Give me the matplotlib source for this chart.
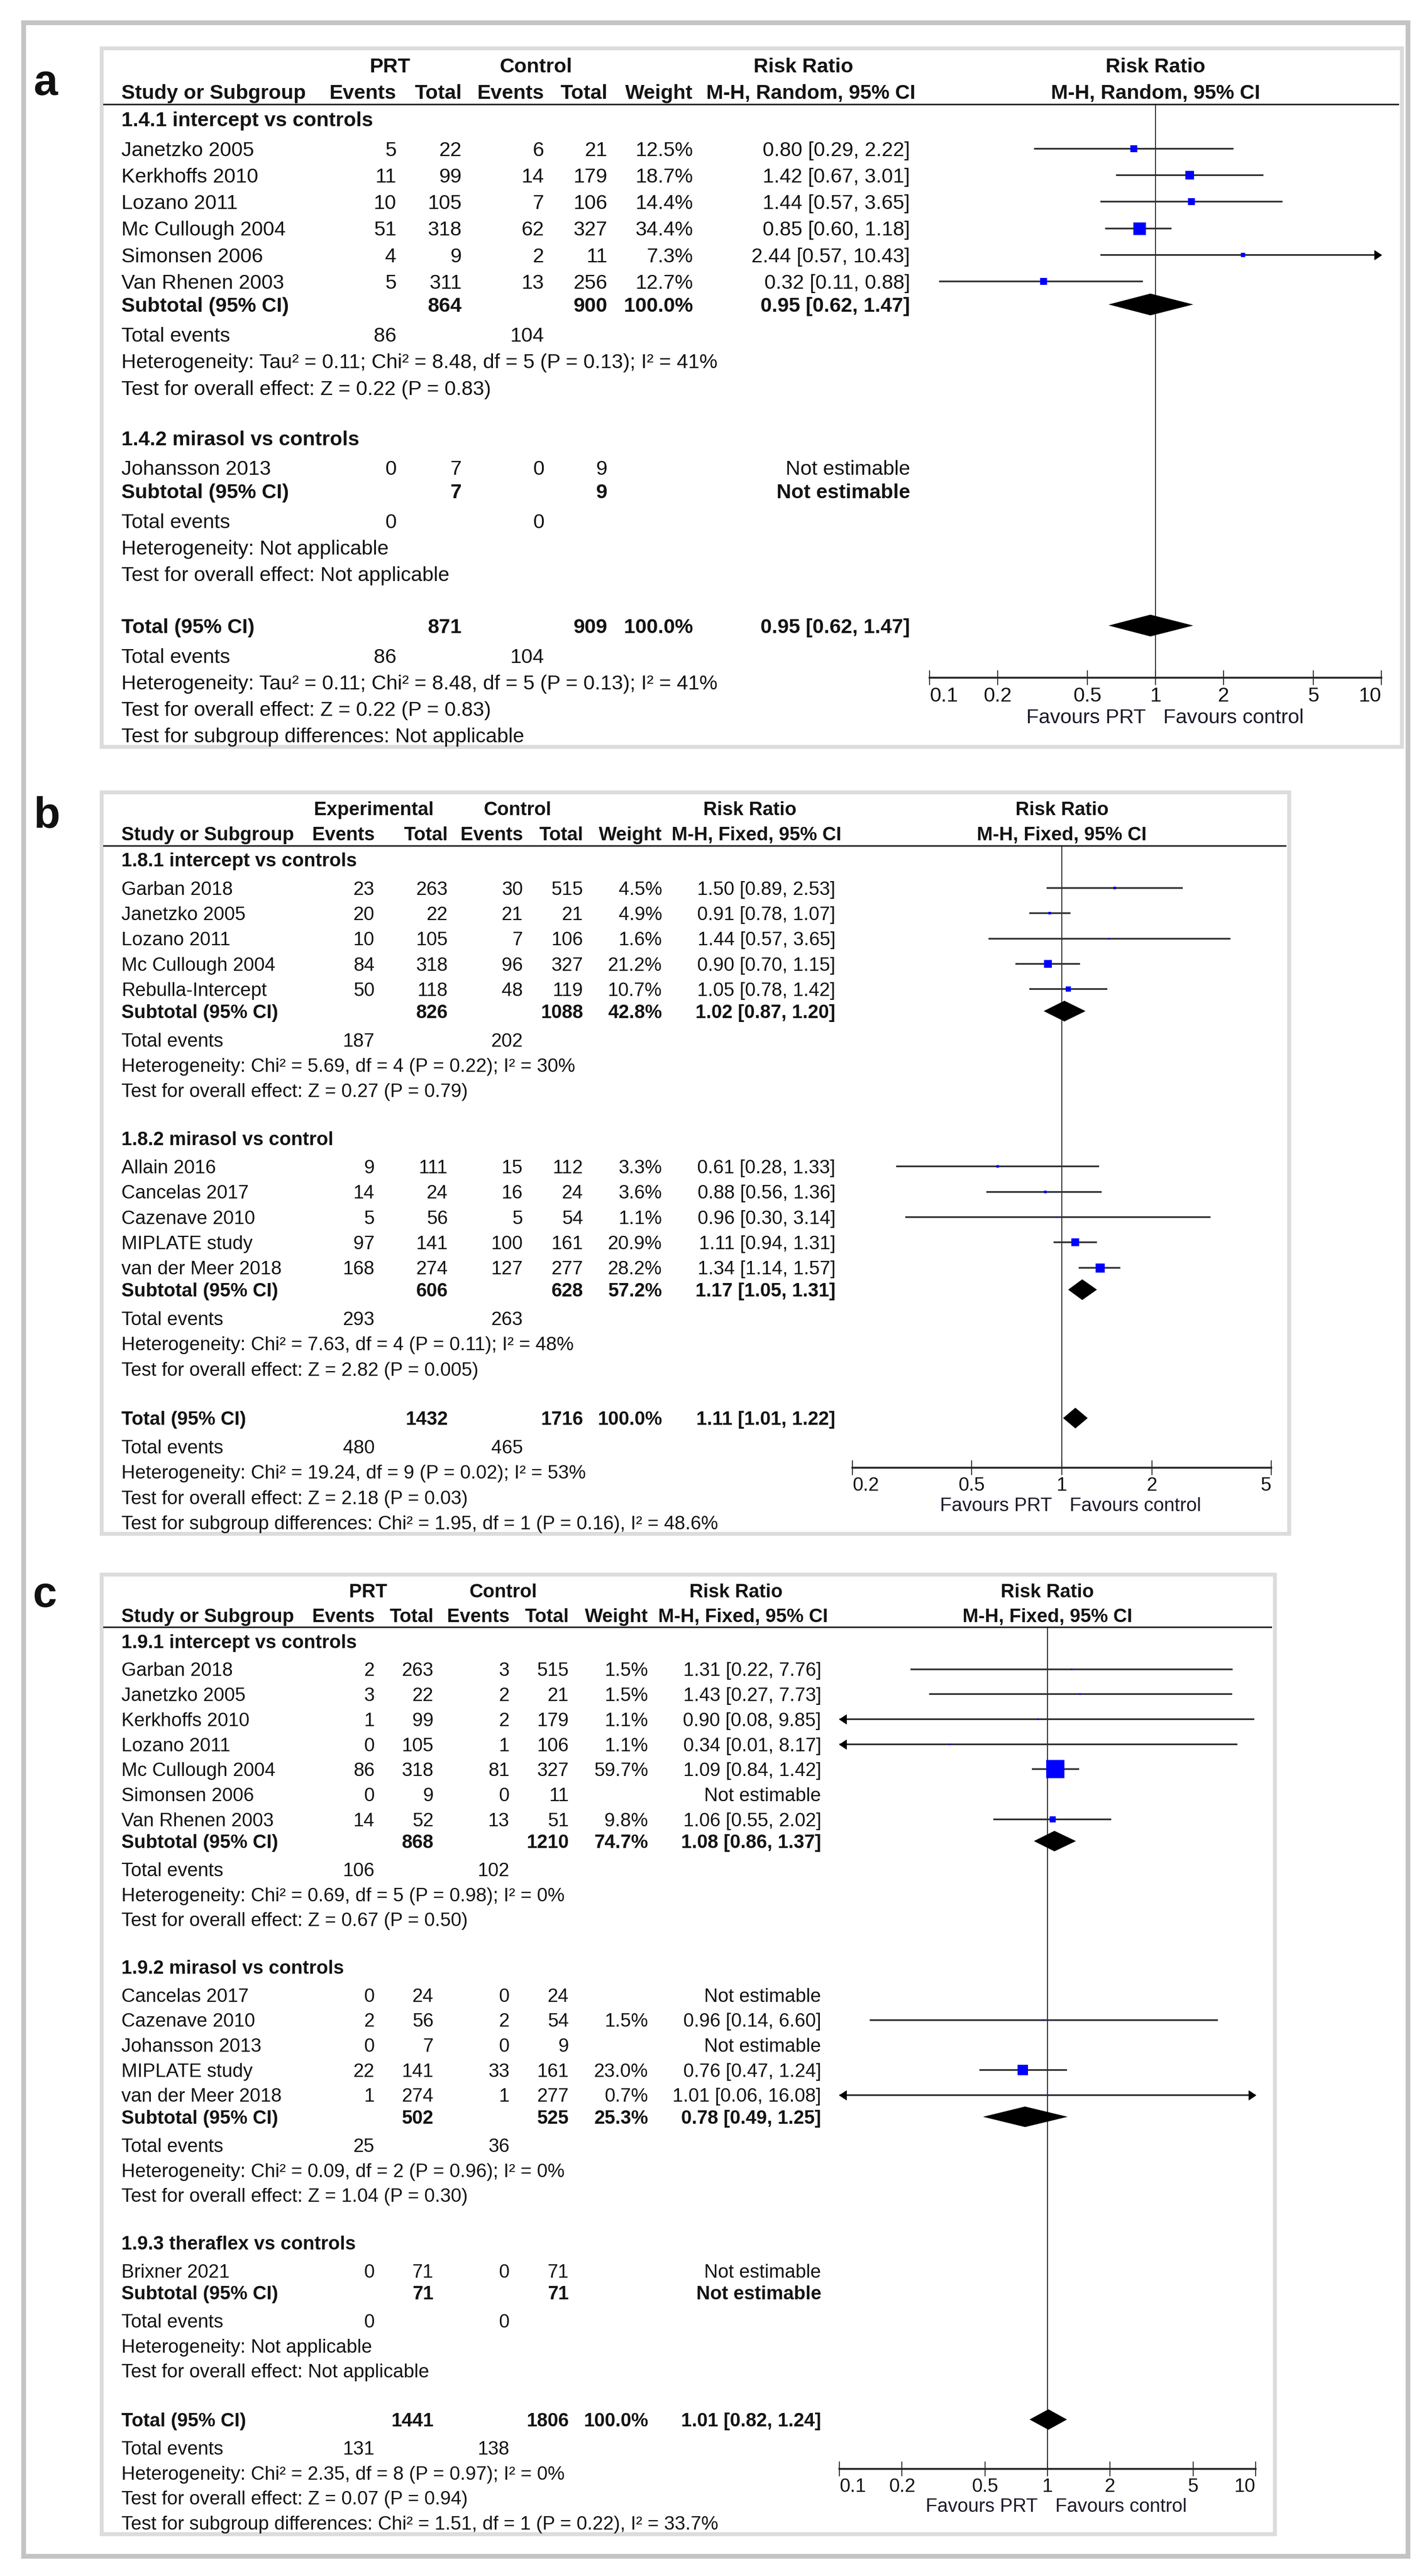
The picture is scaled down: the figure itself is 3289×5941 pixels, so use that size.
import matplotlib
matplotlib.use("Agg")
import matplotlib.pyplot as plt
from matplotlib.patches import Rectangle
from matplotlib.ticker import NullLocator

W, H, DPI = 3289, 5941, 100
PT = 72.0 / DPI          # points per pixel
plt.rcParams["font.family"] = ["Liberation Sans", "DejaVu Sans"]
TXT = "#141414"

# ---------------- panel a : PRT vs control, M-H random ----------------
a1_title = "1.4.1 intercept vs controls"
a1_study = ["Janetzko 2005", "Kerkhoffs 2010", "Lozano 2011", "Mc Cullough 2004",
            "Simonsen 2006", "Van Rhenen 2003"]
a1_e_ev = [5, 11, 10, 51, 4, 5]
a1_e_n = [22, 99, 105, 318, 9, 311]
a1_c_ev = [6, 14, 7, 62, 2, 13]
a1_c_n = [21, 179, 106, 327, 11, 256]
a1_w = [12.5, 18.7, 14.4, 34.4, 7.3, 12.7]
a1_rr = [0.80, 1.42, 1.44, 0.85, 2.44, 0.32]
a1_lo = [0.29, 0.67, 0.57, 0.60, 0.57, 0.11]
a1_hi = [2.22, 3.01, 3.65, 1.18, 10.43, 0.88]
a1_sub = [864, 900, 100.0, 0.95, 0.62, 1.47]
a1_events = [86, 104]
a1_het = "Heterogeneity: Tau² = 0.11; Chi² = 8.48, df = 5 (P = 0.13); I² = 41%"
a1_test = "Test for overall effect: Z = 0.22 (P = 0.83)"

a2_title = "1.4.2 mirasol vs controls"
a2_study = ["Johansson 2013"]
a2_e_ev = [0]
a2_e_n = [7]
a2_c_ev = [0]
a2_c_n = [9]
a2_w = [None]
a2_rr = [None]
a2_lo = [None]
a2_hi = [None]
a2_sub = [7, 9, None, None, None, None]
a2_events = [0, 0]
a2_het = "Heterogeneity: Not applicable"
a2_test = "Test for overall effect: Not applicable"

a_total = [871, 909, 100.0, 0.95, 0.62, 1.47]
a_total_events = [86, 104]
a_total_het = "Heterogeneity: Tau² = 0.11; Chi² = 8.48, df = 5 (P = 0.13); I² = 41%"
a_total_test = "Test for overall effect: Z = 0.22 (P = 0.83)"
a_subdiff = "Test for subgroup differences: Not applicable"

# ---------------- panel b : experimental vs control, M-H fixed ----------------
b1_title = "1.8.1 intercept vs controls"
b1_study = ["Garban 2018", "Janetzko 2005", "Lozano 2011", "Mc Cullough 2004",
            "Rebulla-Intercept"]
b1_e_ev = [23, 20, 10, 84, 50]
b1_e_n = [263, 22, 105, 318, 118]
b1_c_ev = [30, 21, 7, 96, 48]
b1_c_n = [515, 21, 106, 327, 119]
b1_w = [4.5, 4.9, 1.6, 21.2, 10.7]
b1_rr = [1.50, 0.91, 1.44, 0.90, 1.05]
b1_lo = [0.89, 0.78, 0.57, 0.70, 0.78]
b1_hi = [2.53, 1.07, 3.65, 1.15, 1.42]
b1_sub = [826, 1088, 42.8, 1.02, 0.87, 1.20]
b1_events = [187, 202]
b1_het = "Heterogeneity: Chi² = 5.69, df = 4 (P = 0.22); I² = 30%"
b1_test = "Test for overall effect: Z = 0.27 (P = 0.79)"

b2_title = "1.8.2 mirasol vs control"
b2_study = ["Allain 2016", "Cancelas 2017", "Cazenave 2010", "MIPLATE study",
            "van der Meer 2018"]
b2_e_ev = [9, 14, 5, 97, 168]
b2_e_n = [111, 24, 56, 141, 274]
b2_c_ev = [15, 16, 5, 100, 127]
b2_c_n = [112, 24, 54, 161, 277]
b2_w = [3.3, 3.6, 1.1, 20.9, 28.2]
b2_rr = [0.61, 0.88, 0.96, 1.11, 1.34]
b2_lo = [0.28, 0.56, 0.30, 0.94, 1.14]
b2_hi = [1.33, 1.36, 3.14, 1.31, 1.57]
b2_sub = [606, 628, 57.2, 1.17, 1.05, 1.31]
b2_events = [293, 263]
b2_het = "Heterogeneity: Chi² = 7.63, df = 4 (P = 0.11); I² = 48%"
b2_test = "Test for overall effect: Z = 2.82 (P = 0.005)"

b_total = [1432, 1716, 100.0, 1.11, 1.01, 1.22]
b_total_events = [480, 465]
b_total_het = "Heterogeneity: Chi² = 19.24, df = 9 (P = 0.02); I² = 53%"
b_total_test = "Test for overall effect: Z = 2.18 (P = 0.03)"
b_subdiff = "Test for subgroup differences: Chi² = 1.95, df = 1 (P = 0.16), I² = 48.6%"

# ---------------- panel c : PRT vs control, M-H fixed ----------------
c1_title = "1.9.1 intercept vs controls"
c1_study = ["Garban 2018", "Janetzko 2005", "Kerkhoffs 2010", "Lozano 2011",
            "Mc Cullough 2004", "Simonsen 2006", "Van Rhenen 2003"]
c1_e_ev = [2, 3, 1, 0, 86, 0, 14]
c1_e_n = [263, 22, 99, 105, 318, 9, 52]
c1_c_ev = [3, 2, 2, 1, 81, 0, 13]
c1_c_n = [515, 21, 179, 106, 327, 11, 51]
c1_w = [1.5, 1.5, 1.1, 1.1, 59.7, None, 9.8]
c1_rr = [1.31, 1.43, 0.90, 0.34, 1.09, None, 1.06]
c1_lo = [0.22, 0.27, 0.08, 0.01, 0.84, None, 0.55]
c1_hi = [7.76, 7.73, 9.85, 8.17, 1.42, None, 2.02]
c1_sub = [868, 1210, 74.7, 1.08, 0.86, 1.37]
c1_events = [106, 102]
c1_het = "Heterogeneity: Chi² = 0.69, df = 5 (P = 0.98); I² = 0%"
c1_test = "Test for overall effect: Z = 0.67 (P = 0.50)"

c2_title = "1.9.2 mirasol vs controls"
c2_study = ["Cancelas 2017", "Cazenave 2010", "Johansson 2013", "MIPLATE study",
            "van der Meer 2018"]
c2_e_ev = [0, 2, 0, 22, 1]
c2_e_n = [24, 56, 7, 141, 274]
c2_c_ev = [0, 2, 0, 33, 1]
c2_c_n = [24, 54, 9, 161, 277]
c2_w = [None, 1.5, None, 23.0, 0.7]
c2_rr = [None, 0.96, None, 0.76, 1.01]
c2_lo = [None, 0.14, None, 0.47, 0.06]
c2_hi = [None, 6.60, None, 1.24, 16.08]
c2_sub = [502, 525, 25.3, 0.78, 0.49, 1.25]
c2_events = [25, 36]
c2_het = "Heterogeneity: Chi² = 0.09, df = 2 (P = 0.96); I² = 0%"
c2_test = "Test for overall effect: Z = 1.04 (P = 0.30)"

c3_title = "1.9.3 theraflex vs controls"
c3_study = ["Brixner 2021"]
c3_e_ev = [0]
c3_e_n = [71]
c3_c_ev = [0]
c3_c_n = [71]
c3_w = [None]
c3_rr = [None]
c3_lo = [None]
c3_hi = [None]
c3_sub = [71, 71, None, None, None, None]
c3_events = [0, 0]
c3_het = "Heterogeneity: Not applicable"
c3_test = "Test for overall effect: Not applicable"

c_total = [1441, 1806, 100.0, 1.01, 0.82, 1.24]
c_total_events = [131, 138]
c_total_het = "Heterogeneity: Chi² = 2.35, df = 8 (P = 0.97); I² = 0%"
c_total_test = "Test for overall effect: Z = 0.07 (P = 0.94)"
c_subdiff = "Test for subgroup differences: Chi² = 1.51, df = 1 (P = 0.22), I² = 33.7%"

ticks_wide = [0.1, 0.2, 0.5, 1, 2, 5, 10]
ticks_narrow = [0.2, 0.5, 1, 2, 5]
tick_labels_wide = ["0.1", "0.2", "0.5", "1", "2", "5", "10"]
tick_labels_narrow = ["0.2", "0.5", "1", "2", "5"]


def group(title, study, e_ev, e_n, c_ev, c_n, w, rr, lo, hi, sub, events, het, test):
    return dict(title=title, study=study, e_ev=e_ev, e_n=e_n, c_ev=c_ev, c_n=c_n,
                w=w, rr=rr, lo=lo, hi=hi, sub=sub, events=events, het=het, test=test)


panels = [
    dict(label="a", label_xy=(105, 219), top=111, right=3233, u=61.2, fs=47,
         cols=(914, 1065, 1255, 1401, 1598, 2099), grp_x=(900, 1236),
         grp_names=("PRT", "Control"), ci_hdr=(1853, 1870),
         method="M-H, Random, 95% CI", fx=(2144, 3186), xlim=(0.1, 10),
         ticks=ticks_wide, tick_labels=tick_labels_wide, smax=29,
         groups=[group(a1_title, a1_study, a1_e_ev, a1_e_n, a1_c_ev, a1_c_n, a1_w, a1_rr,
                       a1_lo, a1_hi, a1_sub, a1_events, a1_het, a1_test),
                 group(a2_title, a2_study, a2_e_ev, a2_e_n, a2_c_ev, a2_c_n, a2_w, a2_rr,
                       a2_lo, a2_hi, a2_sub, a2_events, a2_het, a2_test)],
         total=a_total, total_events=a_total_events, total_het=a_total_het,
         total_test=a_total_test, subdiff=a_subdiff),
    dict(label="b", label_xy=(108, 1909), top=1827, right=2973, u=58.3, fs=44,
         cols=(864, 1033, 1206, 1345, 1527, 1927), grp_x=(862, 1193),
         grp_names=("Experimental", "Control"), ci_hdr=(1730, 1745),
         method="M-H, Fixed, 95% CI", fx=(1966, 2932), xlim=(0.2, 5),
         ticks=ticks_narrow, tick_labels=tick_labels_narrow, smax=21,
         groups=[group(b1_title, b1_study, b1_e_ev, b1_e_n, b1_c_ev, b1_c_n, b1_w, b1_rr,
                       b1_lo, b1_hi, b1_sub, b1_events, b1_het, b1_test),
                 group(b2_title, b2_study, b2_e_ev, b2_e_n, b2_c_ev, b2_c_n, b2_w, b2_rr,
                       b2_lo, b2_hi, b2_sub, b2_events, b2_het, b2_test)],
         total=b_total, total_events=b_total_events, total_het=b_total_het,
         total_test=b_total_test, subdiff=b_subdiff),
    dict(label="c", label_xy=(103, 3706), top=3631, right=2940, u=57.7, fs=44,
         cols=(864, 1000, 1175, 1312, 1495, 1894), grp_x=(849, 1160),
         grp_names=("PRT", "Control"), ci_hdr=(1697, 1714),
         method="M-H, Fixed, 95% CI", fx=(1936, 2896), xlim=(0.1, 10),
         ticks=ticks_wide, tick_labels=tick_labels_wide, smax=43,
         groups=[group(c1_title, c1_study, c1_e_ev, c1_e_n, c1_c_ev, c1_c_n, c1_w, c1_rr,
                       c1_lo, c1_hi, c1_sub, c1_events, c1_het, c1_test),
                 group(c2_title, c2_study, c2_e_ev, c2_e_n, c2_c_ev, c2_c_n, c2_w, c2_rr,
                       c2_lo, c2_hi, c2_sub, c2_events, c2_het, c2_test),
                 group(c3_title, c3_study, c3_e_ev, c3_e_n, c3_c_ev, c3_c_n, c3_w, c3_rr,
                       c3_lo, c3_hi, c3_sub, c3_events, c3_het, c3_test)],
         total=c_total, total_events=c_total_events, total_het=c_total_het,
         total_test=c_total_test, subdiff=c_subdiff),
]

fig = plt.figure(figsize=(W / DPI, H / DPI), dpi=DPI)
bg = fig.add_axes([0, 0, 1, 1])
bg.set_xlim(0, W)
bg.set_ylim(H, 0)
bg.axis("off")

# outer frame
bg.add_patch(Rectangle((54, 52), 3247 - 54, 5895 - 52, fill=False,
                       ec="#c4c4c4", lw=11 * PT))

RIGHT_ARROW = [(0, 0), (-0.75, 0.5), (-0.75, -0.5), (0, 0)]
LEFT_ARROW = [(0, 0), (0.75, 0.5), (0.75, -0.5), (0, 0)]
STUDY_X = 280


def fmt_ci(rr, lo, hi):
    return "{:.2f} [{:.2f}, {:.2f}]".format(rr, lo, hi)


for p in panels:
    u, fs = p["u"], p["fs"]
    ev1, n1, ev2, n2, wcol, cicol = p["cols"]

    def txt(x, y, s, ha="left", bold=False):
        bg.text(x, y + 0.358 * fs, s, ha=ha, va="baseline", fontsize=fs * PT,
                fontweight="bold" if bold else "normal", color=TXT)

    # header rows
    y1 = p["top"] + 0.64 * u
    y2 = y1 + u
    yl = y2 + 0.48 * u
    txt(p["grp_x"][0], y1, p["grp_names"][0], "center", True)
    txt(p["grp_x"][1], y1, p["grp_names"][1], "center", True)
    txt(p["ci_hdr"][0], y1, "Risk Ratio", "center", True)
    txt(STUDY_X, y2, "Study or Subgroup", "left", True)
    for x, s in zip(p["cols"][:5], ["Events", "Total", "Events", "Total", "Weight"]):
        txt(x, y2, s, "right", True)
    txt(p["ci_hdr"][1], y2, p["method"], "center", True)
    bg.plot([238, p["right"] - 6], [yl, yl], color="#1e1e1e", lw=3.5 * PT,
            solid_capstyle="butt")

    # row layout
    rows = []
    y = yl
    for gi, g in enumerate(p["groups"]):
        y += (0.55 if gi == 0 else 1.9) * u
        rows.append(("group", y, g))
        for i in range(len(g["study"])):
            y += (1.12 if i == 0 else 1.0) * u
            rows.append(("study", y, (g, i)))
        y += 0.87 * u
        rows.append(("sub", y, g["sub"]))
        y += 1.13 * u
        rows.append(("events", y, g["events"]))
        y += u
        rows.append(("note", y, g["het"]))
        y += u
        rows.append(("note", y, g["test"]))
    y += 1.95 * u
    total_y = y
    rows.append(("total", y, p["total"]))
    y += 1.13 * u
    rows.append(("events", y, p["total_events"]))
    y += u
    rows.append(("note", y, p["total_het"]))
    y += u
    rows.append(("note", y, p["total_test"]))
    y += u
    rows.append(("note", y, p["subdiff"]))
    box_bottom = y + 0.44 * u
    axis_y = total_y + 1.97 * u

    # panel box and letter
    bg.add_patch(Rectangle((234, p["top"]), p["right"] - 234, box_bottom - p["top"],
                           fill=False, ec="#dcdcdc", lw=9 * PT))
    bg.text(p["label_xy"][0], p["label_xy"][1], p["label"], ha="center", va="baseline",
            fontsize=100 * PT, fontweight="bold", color="#111111")

    # forest plot axes, y in pixel rows
    fx0, fx1 = p["fx"]
    ax = fig.add_axes([fx0 / W, 1 - box_bottom / H, (fx1 - fx0) / W,
                       (box_bottom - p["top"]) / H])
    ax.set_xscale("log")
    ax.set_xlim(*p["xlim"])
    ax.set_ylim(box_bottom, p["top"])
    ax.patch.set_alpha(0)
    for s in ("top", "left", "right"):
        ax.spines[s].set_visible(False)
    ax.spines["bottom"].set_position(("data", axis_y))
    ax.spines["bottom"].set_linewidth(3.2)
    ax.spines["bottom"].set_color("#262626")
    ax.yaxis.set_visible(False)
    ax.set_xticks(p["ticks"])
    ax.set_xticklabels(p["tick_labels"])
    ax.xaxis.set_minor_locator(NullLocator())
    ax.tick_params(axis="x", direction="inout", length=24, width=1.6, color="#262626",
                   pad=3, labelsize=fs * PT, labelcolor=TXT)
    labs = ax.get_xticklabels()
    labs[0].set_ha("left")
    labs[-1].set_ha("right")

    # forest column headers, centred on the line of no effect
    ax.text(1, y1 + 0.358 * fs, "Risk Ratio", ha="center", va="baseline",
            fontsize=fs * PT, fontweight="bold", color=TXT)
    ax.text(1, y2 + 0.358 * fs, p["method"], ha="center", va="baseline",
            fontsize=fs * PT, fontweight="bold", color=TXT)

    ax.plot([1, 1], [yl, axis_y], color="#111111", lw=1.4)
    fav_y = axis_y + 1.52 * u
    ax.annotate("Favours PRT", (1, fav_y), xytext=(-16, 0), textcoords="offset points",
                ha="right", va="center", fontsize=fs * PT, color="#1c1a2a")
    ax.annotate("Favours control", (1, fav_y), xytext=(13, 0), textcoords="offset points",
                ha="left", va="center", fontsize=fs * PT, color="#1c1a2a")

    xmin, xmax = p["xlim"]
    weights = [w for g in p["groups"] for w in g["w"] if w is not None]
    wmax = max(weights)
    dh = 0.82 * u

    for kind, ry, data in rows:
        if kind == "group":
            txt(STUDY_X, ry, data["title"], bold=True)
        elif kind == "study":
            g, i = data
            txt(STUDY_X, ry, g["study"][i])
            txt(ev1, ry, str(g["e_ev"][i]), "right")
            txt(n1, ry, str(g["e_n"][i]), "right")
            txt(ev2, ry, str(g["c_ev"][i]), "right")
            txt(n2, ry, str(g["c_n"][i]), "right")
            if g["w"][i] is None:
                txt(cicol, ry, "Not estimable", "right")
                continue
            txt(wcol, ry, "{:.1f}%".format(g["w"][i]), "right")
            rr, lo, hi = g["rr"][i], g["lo"][i], g["hi"][i]
            txt(cicol, ry, fmt_ci(rr, lo, hi), "right")
            ax.plot([max(lo, xmin), min(hi, xmax)], [ry, ry], color="#303030",
                    lw=2.8, solid_capstyle="butt", zorder=3)
            side = max(p["smax"] * (g["w"][i] / wmax) ** 0.65, 3.0)
            ax.plot([rr], [ry], marker="s", ms=side * PT, color="#0000ff", mew=0,
                    linestyle="none", zorder=4)
            if lo < xmin:
                ax.plot([xmin], [ry], marker=LEFT_ARROW, ms=23, color="k",
                        linestyle="none", clip_on=False, zorder=4)
            if hi > xmax:
                ax.plot([xmax], [ry], marker=RIGHT_ARROW, ms=23, color="k",
                        linestyle="none", clip_on=False, zorder=4)
        elif kind in ("sub", "total"):
            txt(STUDY_X, ry, "Subtotal (95% CI)" if kind == "sub" else "Total (95% CI)",
                bold=True)
            txt(n1, ry, str(data[0]), "right", True)
            txt(n2, ry, str(data[1]), "right", True)
            if data[2] is None:
                txt(cicol, ry, "Not estimable", "right", True)
                continue
            txt(wcol, ry, "{:.1f}%".format(data[2]), "right", True)
            rr, lo, hi = data[3], data[4], data[5]
            txt(cicol, ry, fmt_ci(rr, lo, hi), "right", True)
            ax.fill([lo, rr, hi, rr], [ry, ry - dh / 2, ry, ry + dh / 2],
                    color="black", lw=0, zorder=4)
        elif kind == "events":
            txt(STUDY_X, ry, "Total events")
            txt(ev1, ry, str(data[0]), "right")
            txt(ev2, ry, str(data[1]), "right")
        else:
            txt(STUDY_X, ry, data)

fig.savefig("out.png", dpi=DPI, facecolor="white")
